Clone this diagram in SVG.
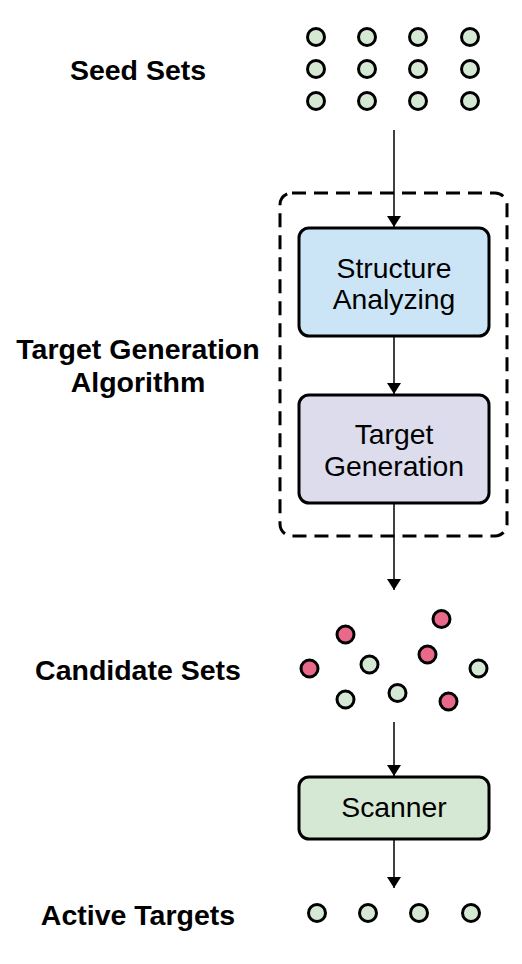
<svg xmlns="http://www.w3.org/2000/svg" width="522" height="964" viewBox="0 0 522 964">
<style>
.lbl{font-family:"Liberation Sans",Arial,sans-serif;font-weight:bold;font-size:28.5px;fill:#000;text-anchor:middle}
.btxt{font-family:"Liberation Sans",Arial,sans-serif;font-size:28.3px;fill:#000;text-anchor:middle}
.g{fill:#d5e8d4;stroke:#000;stroke-width:3}
.p{fill:#e8698a;stroke:#000;stroke-width:3}
.box{stroke:#000;stroke-width:3}
.edge{stroke:#000;stroke-width:1.5;fill:none;marker-end:url(#ah)}
</style>
<defs>
<marker id="ah" markerWidth="11" markerHeight="14" refX="11" refY="7" orient="auto" markerUnits="userSpaceOnUse" viewBox="0 0 11 14">
<path d="M0,0 L11,7 L0,14 Z" fill="#000"/>
</marker>
</defs>
<rect width="522" height="964" fill="#fff"/>
<g id="labels">
<text class="lbl" x="138" y="80">Seed Sets</text>
<text class="lbl" x="138" y="359">Target Generation</text>
<text class="lbl" x="138" y="392">Algorithm</text>
<text class="lbl" x="138" y="680">Candidate Sets</text>
<text class="lbl" x="138" y="925">Active Targets</text>
</g>
<g id="seed-sets">
<circle class="g" cx="316" cy="37" r="8.5"/><circle class="g" cx="367" cy="37" r="8.5"/><circle class="g" cx="418" cy="37" r="8.5"/><circle class="g" cx="470" cy="37" r="8.5"/>
<circle class="g" cx="316" cy="69" r="8.5"/><circle class="g" cx="367" cy="69" r="8.5"/><circle class="g" cx="418" cy="69" r="8.5"/><circle class="g" cx="470" cy="69" r="8.5"/>
<circle class="g" cx="316" cy="101" r="8.5"/><circle class="g" cx="367" cy="101" r="8.5"/><circle class="g" cx="418" cy="101" r="8.5"/><circle class="g" cx="470" cy="101" r="8.5"/>
</g>
<g id="algorithm-group">
<rect x="280" y="193" width="227" height="343" rx="12" fill="none" stroke="#000" stroke-width="3" stroke-dasharray="14 8"/>
</g>
<g id="structure-analyzing">
<rect class="box" x="299" y="228" width="190" height="108" rx="10" fill="#cce5f6"/>
<text class="btxt" x="394" y="278">Structure</text>
<text class="btxt" x="394" y="309">Analyzing</text>
</g>
<g id="target-generation">
<rect class="box" x="299" y="395" width="190" height="108" rx="10" fill="#dcdcec"/>
<text class="btxt" x="394" y="444">Target</text>
<text class="btxt" x="394" y="476">Generation</text>
</g>
<g id="candidate-sets">
<circle class="p" cx="345.5" cy="634.5" r="8.5"/>
<circle class="p" cx="441.5" cy="619" r="8.5"/>
<circle class="p" cx="427.5" cy="654.5" r="8.5"/>
<circle class="p" cx="309.5" cy="668.5" r="8.5"/>
<circle class="g" cx="369.5" cy="664.5" r="8.5"/>
<circle class="g" cx="478.5" cy="668.5" r="8.5"/>
<circle class="g" cx="345.5" cy="699.5" r="8.5"/>
<circle class="g" cx="397.5" cy="693" r="8.5"/>
<circle class="p" cx="448.5" cy="701.5" r="8.5"/>
</g>
<g id="scanner">
<rect class="box" x="299" y="777" width="190" height="62" rx="10" fill="#d5e8d4"/>
<text class="btxt" x="394" y="817">Scanner</text>
</g>
<g id="active-targets">
<circle class="g" cx="317" cy="913" r="8.5"/><circle class="g" cx="368" cy="913" r="8.5"/><circle class="g" cx="419" cy="913" r="8.5"/><circle class="g" cx="471" cy="913" r="8.5"/>
</g>
<g id="connectors">
<line class="edge" x1="394" y1="130" x2="394" y2="227"/>
<line class="edge" x1="394" y1="337" x2="394" y2="394"/>
<line class="edge" x1="394" y1="504" x2="394" y2="590"/>
<line class="edge" x1="394" y1="722" x2="394" y2="776"/>
<line class="edge" x1="394" y1="840" x2="394" y2="888"/>
</g>
</svg>
